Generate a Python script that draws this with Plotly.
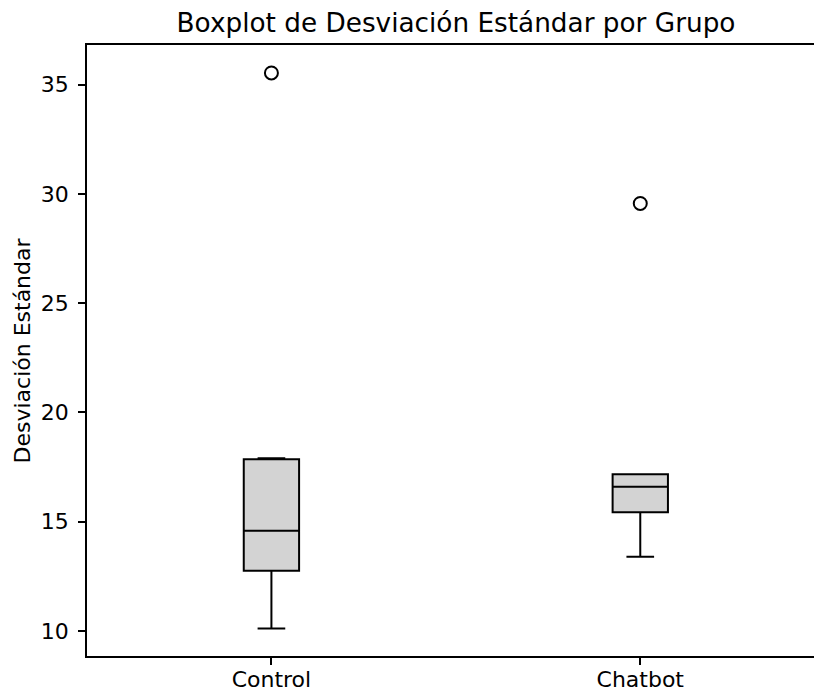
import plotly.graph_objects as go

# Data
groups = ["Control", "Chatbot"]
q1 = [12.76, 15.43]
median = [14.59, 16.60]
q3 = [17.86, 17.17]
lower_whisker = [10.12, 13.40]
upper_whisker = [17.90, 17.17]
outlier_groups = ["Control", "Chatbot"]
outlier_values = [35.53, 29.56]

y_ticks = [10, 15, 20, 25, 30, 35]

FONT = "DejaVu Sans"

fig = go.Figure()
fig.add_trace(go.Box(
    x=groups, q1=q1, median=median, q3=q3,
    lowerfence=lower_whisker, upperfence=upper_whisker,
    width=0.15, whiskerwidth=0.5,
    fillcolor="#d3d3d3",
    line=dict(color="black", width=2),
    boxpoints=False, hoverinfo="skip", showlegend=False,
))
fig.add_trace(go.Scatter(
    x=outlier_groups, y=outlier_values, mode="markers",
    marker=dict(symbol="circle-open", size=13, color="black",
                line=dict(color="black", width=2)),
    showlegend=False, hoverinfo="skip",
))

fig.update_layout(
    width=814, height=691,
    margin=dict(l=87, r=0, t=45, b=35),
    plot_bgcolor="white", paper_bgcolor="white",
    font=dict(family=FONT, size=22, color="black"),
    title=dict(text="Boxplot de Desviación Estándar por Grupo",
               x=456 / 814, xref="container", xanchor="center",
               y=1 - 23 / 691, yref="container", yanchor="middle",
               font=dict(family=FONT, size=26.3, color="black")),
    xaxis=dict(
        type="category", categoryorder="array", categoryarray=groups,
        range=[-0.5, 1.471], showgrid=False, zeroline=False,
        showline=True, linecolor="black", linewidth=1.7, mirror=True,
        ticks="outside", ticklen=7, tickwidth=1.7, tickcolor="black",
        tickfont=dict(family=FONT, size=22, color="black"),
        ticklabelstandoff=-4,
        automargin=False,
    ),
    yaxis=dict(
        range=[8.857, 36.81], tickvals=y_ticks,
        ticktext=[str(v) for v in y_ticks],
        showgrid=False, zeroline=False,
        showline=True, linecolor="black", linewidth=1.7, mirror=False,
        ticks="outside", ticklen=7, tickwidth=1.7, tickcolor="black",
        tickfont=dict(family=FONT, size=22, color="black"),
        ticklabelstandoff=5,
        automargin=False,
    ),
    annotations=[dict(
        text="Desviación Estándar", textangle=-90,
        xref="paper", yref="paper", x=(22 - 87) / 727, y=0.5,
        xanchor="center", yanchor="middle", showarrow=False,
        font=dict(family=FONT, size=22, color="black"),
    )],
)

fig.write_html("out.html")
